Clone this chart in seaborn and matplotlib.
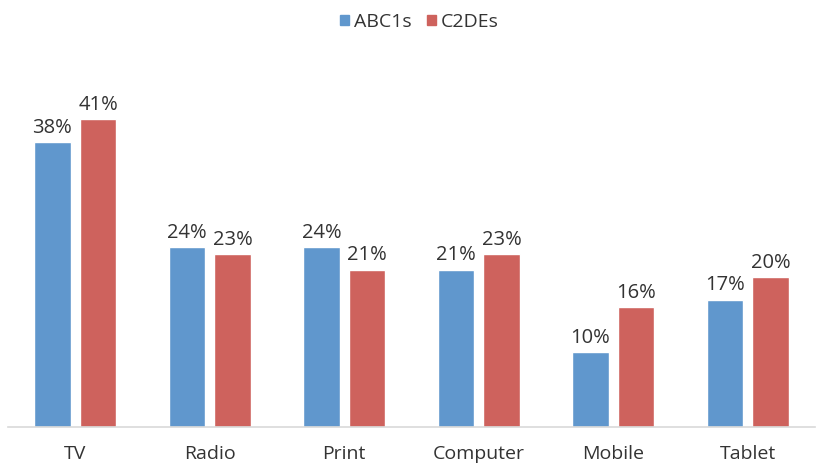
import pandas as pd
import matplotlib
matplotlib.use('Agg')
import matplotlib.pyplot as plt
import seaborn as sns
from matplotlib.patches import Patch

categories = ['TV', 'Radio', 'Print', 'Computer', 'Mobile', 'Tablet']
abc1s = [38, 24, 24, 21, 10, 17]
c2des = [41, 23, 21, 23, 16, 20]
series = ['ABC1s', 'C2DEs']
colors = ['#6097CD', '#CE625D']

df = pd.DataFrame({
    'category': categories * 2,
    'value': abc1s + c2des,
    'group': [series[0]] * len(categories) + [series[1]] * len(categories),
})

sns.set_style('white')
plt.rcParams['font.family'] = ['Open Sans', 'DejaVu Sans']

fig = plt.figure(figsize=(8.21, 4.66), dpi=100)
ax = fig.add_axes([8 / 821, 39 / 466, 807 / 821, 375 / 466])

sns.barplot(data=df, x='category', y='value', hue='group', order=categories,
            hue_order=series, palette=colors, width=0.68, gap=0.2,
            saturation=1, legend=False, ax=ax)

for cont in ax.containers:
    ax.bar_label(cont, labels=[f'{v:.0f}%' for v in cont.datavalues],
                 padding=3, fontsize=14.5, color='#333333')

ax.set_ylim(0, 50)
ax.set_xlim(-0.5, len(categories) - 0.5)
ax.set_yticks([])
ax.set_xlabel('')
ax.set_ylabel('')
ax.tick_params(axis='x', length=0, pad=13, labelsize=14, labelcolor='#333333')
for s in ['top', 'left', 'right']:
    ax.spines[s].set_visible(False)
ax.spines['bottom'].set_color('#d9d9d9')
ax.spines['bottom'].set_linewidth(1.2)

handles = [Patch(color=c, label=l) for c, l in zip(colors, series)]
fig.legend(handles=handles, loc='center', bbox_to_anchor=(0.511, 1 - 22 / 466),
           ncol=2, frameon=False, fontsize=14, handlelength=0.45,
           handleheight=0.45, handletextpad=0.25, columnspacing=0.8,
           labelcolor='#333333')

fig.savefig('out.png', dpi=100)
